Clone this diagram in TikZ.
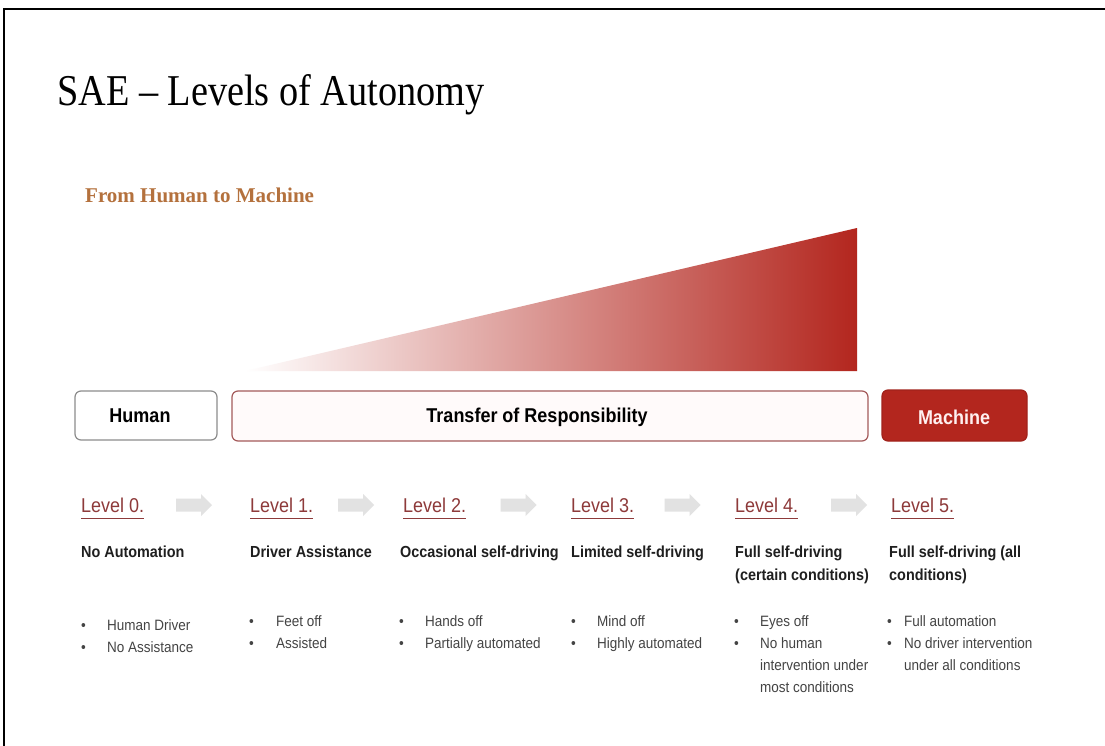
\documentclass[tikz,border=0pt]{standalone}
\usepackage{fontspec}
\setmainfont{Liberation Serif}
\newfontfamily\condsans[FakeStretch=0.9]{Liberation Sans}
\newfontfamily\titleserif[FakeStretch=0.87]{Liberation Serif}
\definecolor{saered}{HTML}{B3261E}
\definecolor{levelred}{HTML}{8E3A3A}
\definecolor{leadbrown}{HTML}{B4713D}
\definecolor{boxedge}{HTML}{A45A5A}
\definecolor{bodygray}{HTML}{444444}
\definecolor{arrowgray}{HTML}{E2E2E2}
\tikzset{
  band/.style={draw, rounded corners=6pt, line width=1.2pt, inner sep=0pt},
  bandtext/.style={font=\condsans\bfseries\fontsize{20}{22}\selectfont, inner sep=0pt},
  levellabel/.style={anchor=base west, inner sep=0pt, text=levelred,
    font=\condsans\fontsize{20}{24}\selectfont},
  levelline/.style={levelred, line width=0.9pt},
  stagearrow/.pic={
    \fill[arrowgray] (-18,-6.5) -- (7,-6.5) -- (7,-11) -- (18,0) -- (7,11)
      -- (7,6.5) -- (-18,6.5) -- cycle;},
  stagename/.style={anchor=base west, inner sep=0pt, text=black!88,
    font=\condsans\bfseries\fontsize{16}{23}\selectfont},
  bullets/.style={anchor=base west, inner sep=0pt, text=bodygray,
    font=\condsans\fontsize{15}{22}\selectfont},
}
\begin{document}
\begin{tikzpicture}[x=1pt,y=-1pt]
\useasboundingbox (0,0) rectangle (1105,746);
\fill[white] (0,0) rectangle (1105,746);
\draw[line width=1.6pt] (4,746) -- (4,9) -- (1105,9);

% heading
\node[anchor=base west, inner sep=0pt, font=\titleserif\fontsize{44}{48}\selectfont]
  (title) at (57,106) {SAE \textendash{} Levels of Autonomy};
\node[anchor=base west, inner sep=0pt, text=leadbrown, font=\bfseries\fontsize{21}{24}\selectfont]
  (lead) at (85,203) {From Human to Machine};

% growing share of the machine
\shade[left color=white, right color=saered] (245,371) -- (857,228) -- (857,371) -- cycle;

% responsibility bands
\node[band, draw=black!45, fill=white, minimum width=142pt, minimum height=49pt]
  (human) at (146,415.5) {};
\node[bandtext] (humant) at (140,416) {Human};
\node[band, draw=boxedge, fill=red!2, minimum width=636pt, minimum height=50pt]
  (transfer) at (550,416) {};
\node[bandtext] (transfert) at (537,417) {Transfer of Responsibility};
\node[band, draw=saered!90!black, fill=saered, minimum width=145pt, minimum height=51pt]
  (machine) at (954.5,415.5) {};
\node[bandtext, text=white!94!red] (machinet) at (954,417) {Machine};

% level headings
\node[levellabel] (lv0) at (81,512) {Level 0.};
\node[levellabel] (lv1) at (250,512) {Level 1.};
\node[levellabel] (lv2) at (403,512) {Level 2.};
\node[levellabel] (lv3) at (571,512) {Level 3.};
\node[levellabel] (lv4) at (735,512) {Level 4.};
\node[levellabel] (lv5) at (891,512) {Level 5.};
\foreach \n in {lv0,lv1,lv2,lv3,lv4,lv5}
  \draw[levelline] ([yshift=-6pt]\n.base west) -- ([yshift=-6pt]\n.base east);

% steps between levels
\pic (a01) at (194,505) {stagearrow};
\pic (a12) at (356,505) {stagearrow};
\pic (a23) at (518.5,505) {stagearrow};
\pic (a34) at (682.5,505) {stagearrow};
\pic (a45) at (849,505) {stagearrow};

% level names
\node[stagename] (n0) at (81,557) {No Automation};
\node[stagename] (n1) at (250,557) {Driver Assistance};
\node[stagename] (n2) at (400,557) {Occasional self-driving};
\node[stagename] (n3) at (571,557) {Limited self-driving};
\node[stagename] (n4) at (735,557) {\begin{tabular}[t]{@{}l@{}}Full self-driving\\(certain conditions)\end{tabular}};
\node[stagename] (n5) at (889,557) {\begin{tabular}[t]{@{}l@{}}Full self-driving (all\\conditions)\end{tabular}};

% level details
\node[bullets] (b0) at (81,630) {\begin{tabular}[t]{@{}p{26pt}@{}l@{}}\textbullet&Human Driver\\\textbullet&No Assistance\end{tabular}};
\node[bullets] (b1) at (249,626) {\begin{tabular}[t]{@{}p{27pt}@{}l@{}}\textbullet&Feet off\\\textbullet&Assisted\end{tabular}};
\node[bullets] (b2) at (399,626) {\begin{tabular}[t]{@{}p{26pt}@{}l@{}}\textbullet&Hands off\\\textbullet&Partially automated\end{tabular}};
\node[bullets] (b3) at (571,626) {\begin{tabular}[t]{@{}p{26pt}@{}l@{}}\textbullet&Mind off\\\textbullet&Highly automated\end{tabular}};
\node[bullets] (b4) at (734,626) {\begin{tabular}[t]{@{}p{26pt}@{}l@{}}\textbullet&Eyes off\\\textbullet&No human\\&intervention under\\&most conditions\end{tabular}};
\node[bullets] (b5) at (887,626) {\begin{tabular}[t]{@{}p{17pt}@{}l@{}}\textbullet&Full automation\\\textbullet&No driver intervention\\&under all conditions\end{tabular}};
\end{tikzpicture}
\end{document}
